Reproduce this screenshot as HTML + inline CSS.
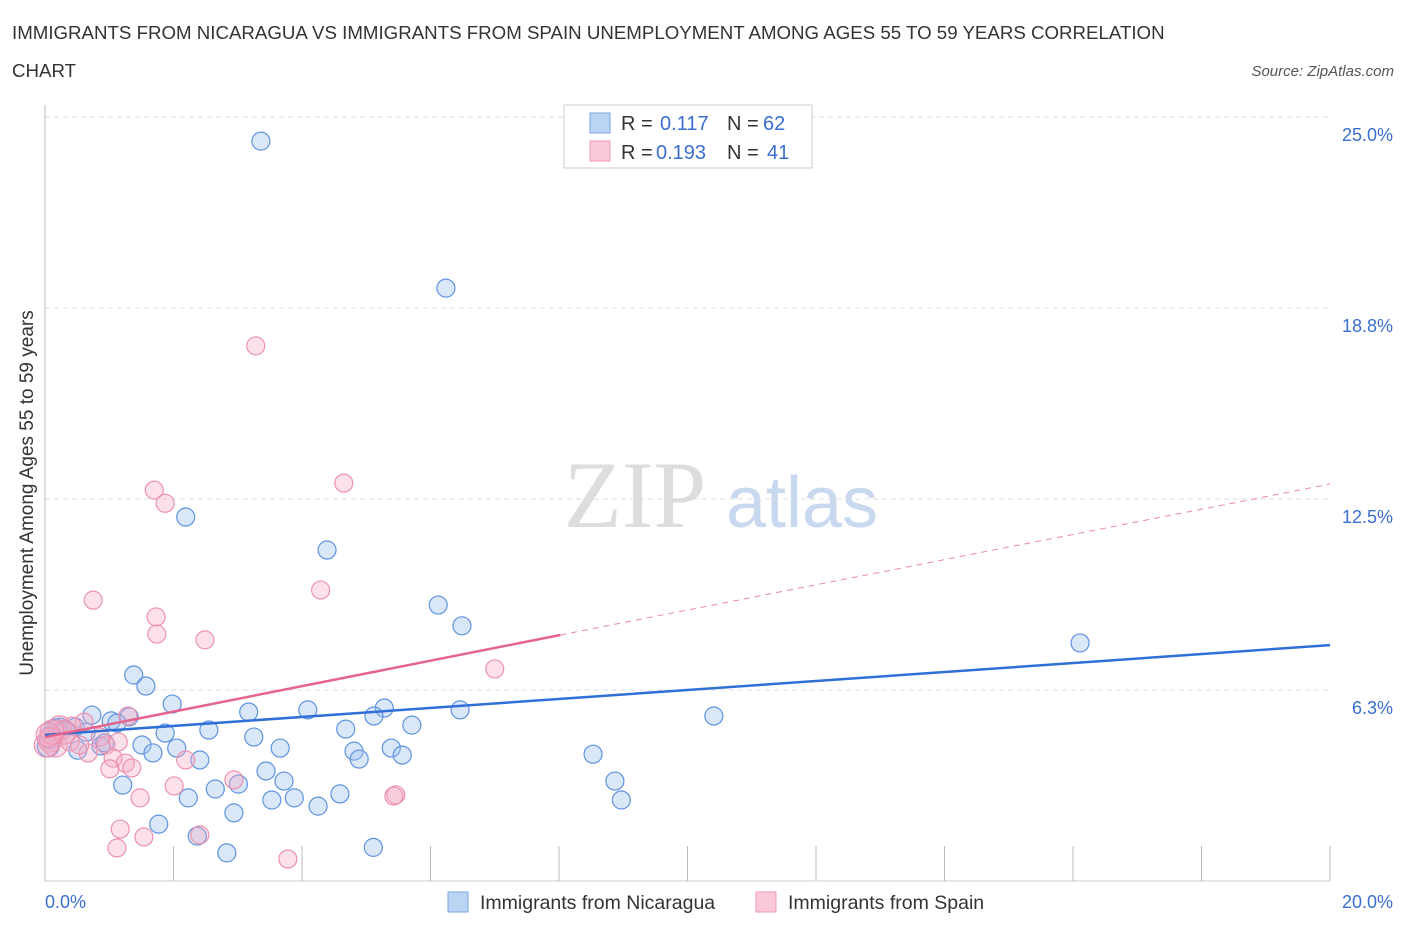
<!DOCTYPE html>
<html><head><meta charset="utf-8"><style>
body{margin:0;background:#fff;font-family:"Liberation Sans",sans-serif;}
</style></head><body>
<svg id="c" width="1406" height="930" style="font-family:'Liberation Sans',sans-serif">
<text x="12" y="39" font-size="18.7" fill="#333">IMMIGRANTS FROM NICARAGUA VS IMMIGRANTS FROM SPAIN UNEMPLOYMENT AMONG AGES 55 TO 59 YEARS CORRELATION</text>
<text x="12" y="77" font-size="18.7" fill="#333">CHART</text>
<text x="1394" y="76" font-size="15" fill="#555" font-style="italic" text-anchor="end">Source: ZipAtlas.com</text>
<text x="635" y="527" font-size="95" fill="#ddd" style="font-family:'Liberation Serif',serif" text-anchor="middle">ZIP</text>
<text x="802" y="527" font-size="72" fill="#c8d8ef" text-anchor="middle">atlas</text>
<g id="grid"></g><g id="pts"></g><g id="lines"></g>
<text x="33" y="493" font-size="19" fill="#333" text-anchor="middle" transform="rotate(-90 33 493)">Unemployment Among Ages 55 to 59 years</text>
<text x="45" y="908" font-size="18" fill="#3a6fd0" text-anchor="start">0.0%</text>
<text x="1393" y="908" font-size="18" fill="#3a6fd0" text-anchor="end">20.0%</text>
<g>
<rect x="564" y="105" width="248" height="63" fill="#fff" stroke="#ccc"/>
<rect x="590" y="113" width="20" height="20" fill="#bcd4f4" stroke="#7aa6e0"/>
<rect x="590" y="141" width="20" height="20" fill="#f9c9d8" stroke="#ee9ab5"/>
<text x="621" y="130" font-size="20" fill="#333">R =</text><text x="660" y="130" font-size="20" fill="#3a6fd0">0.117</text>
<text x="727" y="130" font-size="20" fill="#333">N =</text><text x="763" y="130" font-size="20" fill="#3a6fd0">62</text>
<text x="621" y="159" font-size="20" fill="#333">R =</text><text x="656" y="159" font-size="20" fill="#3a6fd0">0.193</text>
<text x="727" y="159" font-size="20" fill="#333">N =</text><text x="767" y="159" font-size="20" fill="#3a6fd0">41</text>
</g>
<g>
<rect x="448" y="892" width="20" height="20" fill="#bcd4f4" stroke="#7aa6e0"/>
<text x="480" y="909" font-size="19.5" fill="#333">Immigrants from Nicaragua</text>
<rect x="756" y="892" width="20" height="20" fill="#f9c9d8" stroke="#ee9ab5"/>
<text x="788" y="909" font-size="19.5" fill="#333">Immigrants from Spain</text>
</g>
</svg>
<script>
const yTicks=[6.25,12.5,18.75,25];
const yTickLabels=["6.3%","12.5%","18.8%","25.0%"];
const xTicks=[2,4,6,8,10,12,14,16,18,20];
const blueX=[3.36,6.24,2.19,4.39,6.12,6.49,16.11,1.38,1.57,1.98,3.17,4.09,5.28,6.46,5.12,10.41,0.73,1.03,1.31,1.12,1.87,2.55,4.68,5.71,0.23,0.47,0.64,3.25,1.51,2.05,3.66,4.81,5.39,0.87,1.68,0.51,2.41,4.89,5.56,8.53,3.44,3.72,3.01,2.65,1.21,8.87,2.23,3.53,3.88,4.25,4.59,8.97,2.94,1.77,2.37,2.83,5.11,0.16,0.08,0.31,0.93,0.05];
const blueY=[24.21,19.4,11.91,10.83,9.03,8.35,7.79,6.74,6.38,5.79,5.53,5.6,5.66,5.6,5.4,5.4,5.43,5.24,5.37,5.17,4.84,4.94,4.97,5.1,4.97,5.04,4.87,4.71,4.45,4.35,4.35,4.25,4.35,4.42,4.19,4.28,3.96,3.99,4.12,4.15,3.6,3.27,3.17,3.01,3.14,3.27,2.72,2.65,2.72,2.45,2.85,2.65,2.23,1.86,1.47,0.92,1.1,4.94,4.68,4.84,4.52,4.42];
const pinkX=[3.28,4.65,1.7,1.87,0.75,4.29,1.73,1.74,2.49,7.0,1.29,0.61,0.23,0.42,0.86,0.95,1.14,0.08,0.16,0.67,1.06,1.25,1.35,2.19,1.01,2.94,2.01,1.48,5.46,5.43,1.17,1.54,1.12,2.41,3.78,0.3,0.39,0.02,0.11,0.54,0.05];
const pinkY=[17.51,13.02,12.79,12.36,9.19,9.52,8.64,8.08,7.89,6.94,5.4,5.2,5.01,5.07,4.71,4.45,4.55,4.61,4.45,4.19,4.02,3.86,3.7,3.96,3.67,3.31,3.11,2.72,2.82,2.78,1.7,1.44,1.08,1.51,0.72,4.87,4.55,4.45,4.87,4.45,4.78];
const X=v=>45+v/20*1285, Y=v=>881-v/25*764;
const NS="http://www.w3.org/2000/svg";
function mk(t,a,p){const e=document.createElementNS(NS,t);for(const k in a)e.setAttribute(k,a[k]);p.appendChild(e);return e;}
const g=document.getElementById('grid');
yTicks.forEach((v,i)=>{
 const l=mk('line',{x1:45,x2:1330,y1:Y(v),y2:Y(v),stroke:'#ddd','stroke-dasharray':'5,4'},g);
 
 
 const t=mk('text',{x:1393,y:Y(v)+24,'font-size':18,fill:'#3a6fd0','text-anchor':'end'},g);
 t.textContent=yTickLabels[i];
 
 
});
const ax=mk('line',{x1:45,x2:45,y1:105,y2:881,stroke:'#bbb'},g);


const bx=mk('line',{x1:45,x2:1330,y1:881,y2:881,stroke:'#ccc'},g);


xTicks.forEach(v=>{
 const t=mk('line',{x1:X(v),x2:X(v),y1:846,y2:881,stroke:'#bbb'},g);
 
 
});
const p=document.getElementById('pts');
blueX.forEach((x,i)=>{
 const c=mk('circle',{cx:X(x),cy:Y(blueY[i]),r:x<0.35?11:9,fill:'rgba(160,195,240,0.4)',stroke:'#5f93e0','stroke-width':1.2},p);
 
 
});
pinkX.forEach((x,i)=>{
 const c=mk('circle',{cx:X(x),cy:Y(pinkY[i]),r:x<0.35?12:9,fill:'rgba(245,170,195,0.35)',stroke:'#ec92b0','stroke-width':1.2},p);
 
 
});
const L=document.getElementById('lines');
const blueTrend=[4.78,7.72], pinkTrend=[4.71,8.05,12.99];
const pinkSolidEnd=8.02;
let a=mk('line',{x1:X(0),y1:Y(blueTrend[0]),x2:X(20),y2:Y(blueTrend[1]),stroke:'#2f6fd6','stroke-width':2.5},L);


a=mk('line',{x1:X(0),y1:Y(pinkTrend[0]),x2:X(pinkSolidEnd),y2:Y(pinkTrend[1]),stroke:'#e4648e','stroke-width':2.5},L);


a=mk('line',{x1:X(pinkSolidEnd),y1:Y(pinkTrend[1]),x2:X(20),y2:Y(pinkTrend[2]),stroke:'#e88aa8','stroke-width':1,'stroke-dasharray':'6,5'},L);


</script>
</body></html>
